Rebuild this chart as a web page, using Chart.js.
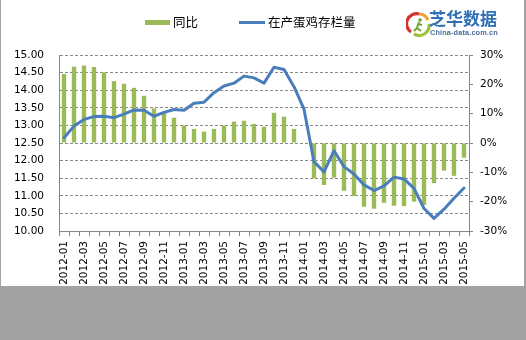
<!DOCTYPE html>
<html>
<head>
<meta charset="utf-8">
<script src="https://cdn.jsdelivr.net/npm/chart.js@4.4.0/dist/chart.umd.min.js"></script>
<style>
html,body{margin:0;padding:0;width:526px;height:340px;background:#a2a2a2;overflow:hidden;}
#panel{position:absolute;left:1px;top:0;width:523px;height:286px;background:#fff;}
#wrap{position:absolute;left:0;top:0;width:526px;height:286px;}
.legtext{position:absolute;font-family:"Noto Sans CJK SC";font-size:12.5px;line-height:14px;color:#000;white-space:nowrap;}
.legbox{position:absolute;}
#logo1{position:absolute;left:429px;top:8px;font-family:"Noto Sans CJK SC";font-weight:bold;font-size:17px;line-height:20px;color:#2f6fb8;letter-spacing:0px;white-space:nowrap;}
#logo2{position:absolute;left:430px;top:29px;font-family:"Liberation Sans";font-weight:bold;font-size:7.3px;line-height:8px;color:#4a6d98;letter-spacing:0.15px;white-space:nowrap;}
#icon{position:absolute;left:406px;top:11px;}
</style>
</head>
<body>
<div id="panel"></div>
<div id="wrap"><canvas id="c" width="526" height="286"></canvas></div>
<div id="legend"></div>
<svg id="icon" width="26" height="27" viewBox="0 0 26 27">
  <path d="M5 21 A10 10 0 0 1 13 3" stroke="#d8322c" stroke-width="3.2" fill="none"/>
  <path d="M13 3 A10 10 0 0 1 22 9" stroke="#f0a030" stroke-width="3.2" fill="none"/>
  <path d="M23 13 A10 10 0 0 1 8 23" stroke="#9cc13a" stroke-width="3.2" fill="none"/>
  <circle cx="14" cy="9" r="1.8" fill="#6aa52c"/>
  <path d="M13 11 L11 17 L8 20 M11 17 L15 20 M12 13 L16 14" stroke="#6aa52c" stroke-width="2" fill="none"/>
</svg>
<div id="logo1">芝华数据</div>
<div id="logo2">China-data.com.cn</div>
<script>
const months = ["2012-01","2012-02","2012-03","2012-04","2012-05","2012-06","2012-07","2012-08","2012-09","2012-10","2012-11","2012-12",
"2013-01","2013-02","2013-03","2013-04","2013-05","2013-06","2013-07","2013-08","2013-09","2013-10","2013-11","2013-12",
"2014-01","2014-02","2014-03","2014-04","2014-05","2014-06","2014-07","2014-08","2014-09","2014-10","2014-11","2014-12",
"2015-01","2015-02","2015-03","2015-04","2015-05"];
// 同比 (%)
const yoyValues = [23.5, 26.0, 26.4, 25.9, 24.1, 21.1, 20.2, 18.8, 16.1, 11.8,
  10.5, 8.6, 6.0, 4.8, 3.9, 4.8, 6.0, 7.3, 7.6, 6.5,
  5.5, 10.3, 9.0, 4.8, 0, -12.0, -14.3, -11.8, -16.3, -18.1,
  -21.7, -22.4, -20.4, -21.4, -21.5, -20.0, -21.1, -13.7, -9.4, -11.2,
  -5.0];
// 在产蛋鸡存栏量
const stockValues = [12.65, 12.98, 13.17, 13.25, 13.26, 13.22, 13.32, 13.44, 13.43, 13.26,
  13.37, 13.45, 13.43, 13.63, 13.66, 13.93, 14.12, 14.20, 14.40, 14.35,
  14.20, 14.65, 14.59, 14.10, 13.46, 11.97, 11.68, 12.28, 11.83, 11.62,
  11.31, 11.15, 11.28, 11.53, 11.48, 11.21, 10.64, 10.36, 10.62, 10.93,
  11.22];
const seriesNames = ["同比", "在产蛋鸡存栏量"];
const seriesColors = ["#9BBB59", "#4A7EBB"];
const leftTicks = [10, 15, 0.5];   // min, max, step
const rightTicks = [-30, 30, 10];  // min, max, step

// HTML legend
(function(){
  const lg = document.getElementById('legend');
  const b1 = document.createElement('div'); b1.className='legbox';
  Object.assign(b1.style,{left:'145px',top:'20px',width:'25px',height:'5px',background:seriesColors[0]});
  const t1 = document.createElement('div'); t1.className='legtext'; t1.textContent=seriesNames[0];
  Object.assign(t1.style,{left:'173px',top:'15px'});
  const b2 = document.createElement('div'); b2.className='legbox';
  Object.assign(b2.style,{left:'239px',top:'21px',width:'26px',height:'3px',background:seriesColors[1]});
  const t2 = document.createElement('div'); t2.className='legtext'; t2.textContent=seriesNames[1];
  Object.assign(t2.style,{left:'268px',top:'15px'});
  [b1,t1,b2,t2].forEach(e=>lg.appendChild(e));
})();

const tickFont = {family: "DejaVu Sans", size: 10.5};
const axisColor = '#868686';

new Chart(document.getElementById('c'), {
  type: 'bar',
  data: {
    labels: months,
    datasets: [
      {
        type: 'line',
        label: seriesNames[1],
        data: stockValues,
        yAxisID: 'yL',
        borderColor: seriesColors[1],
        backgroundColor: seriesColors[1],
        borderWidth: 3,
        pointRadius: 0,
        tension: 0,
        borderJoinStyle: 'round',
        borderCapStyle: 'round',
        order: 0
      },
      {
        type: 'bar',
        label: seriesNames[0],
        data: yoyValues,
        yAxisID: 'yR',
        backgroundColor: seriesColors[0],
        barPercentage: 0.44,
        categoryPercentage: 1.0,
        order: 1
      }
    ]
  },
  options: {
    responsive: false,
    animation: false,
    layout: {padding: {top: 55, left: 0, right: 0, bottom: 0}},
    plugins: {legend: {display: false}, tooltip: {enabled: false}},
    scales: {
      x: {
        offset: true,
        grid: {display: true, drawOnChartArea: false, drawTicks: true, tickLength: 5, color: axisColor, offset: true},
        border: {display: true, color: axisColor},
        ticks: {
          autoSkip: false, maxRotation: 90, minRotation: 90, padding: 5,
          font: tickFont, color: '#000',
          callback: (v, i) => (i % 2 === 0 ? months[i] : '')
        },
        afterFit: s => { s.height = 55; }
      },
      yL: {
        position: 'left',
        min: leftTicks[0], max: leftTicks[1],
        ticks: {stepSize: leftTicks[2], callback: v => Number(v).toFixed(2), font: tickFont, color: '#000', padding: 15},
        grid: {color: '#8a8a8a', drawTicks: false},
        border: {display: true, color: axisColor, dash: [3, 2]},
        afterFit: s => { s.width = 59; }
      },
      yR: {
        position: 'right',
        min: rightTicks[0], max: rightTicks[1],
        ticks: {stepSize: rightTicks[2], callback: v => v + '%', font: tickFont, color: '#000', padding: 7},
        grid: {drawOnChartArea: false, drawTicks: true, tickLength: 4, color: axisColor},
        border: {display: true, color: axisColor},
        afterFit: s => { s.width = 57; }
      }
    }
  }
});
</script>
</body>
</html>
